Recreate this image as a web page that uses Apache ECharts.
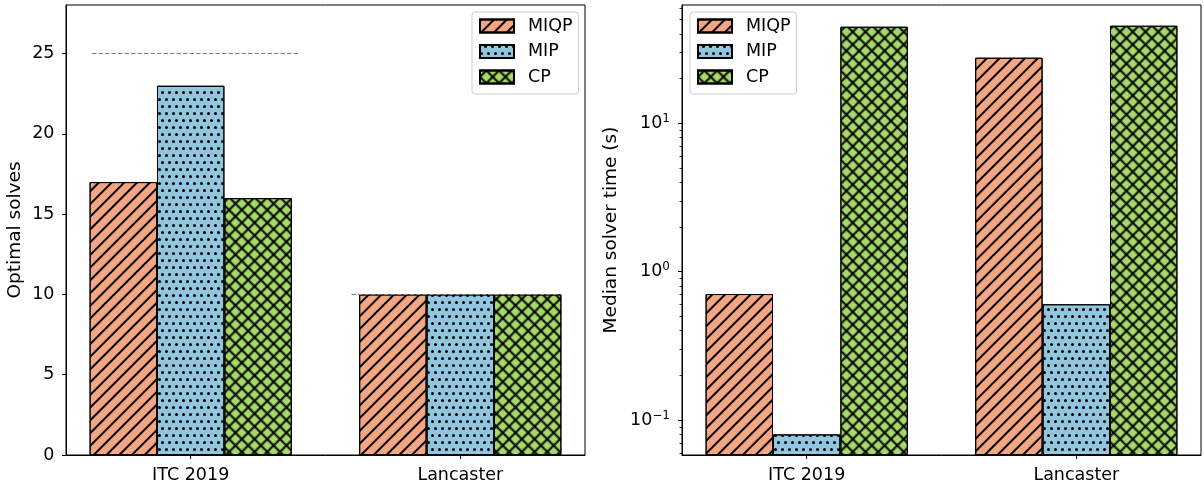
<!DOCTYPE html>
<html>
<head>
<meta charset="utf-8">
<script src="https://cdn.jsdelivr.net/npm/echarts@6/dist/echarts.min.js"></script>
<style>
  html, body { margin: 0; padding: 0; background: #fff; }
  #chart { width: 1204px; height: 487px; }
</style>
</head>
<body>
<div id="chart"></div>
<script>
// data
const categories = ["ITC 2019", "Lancaster"];
const solvers = ["MIQP", "MIP", "CP"];
const solverColors = ["#f4a582", "#92c5de", "#a6d96a"];

const optimalMIQP = [17, 10];
const optimalMIP = [23, 10];
const optimalCP = [16, 10];
// instance counts drawn as dashed reference lines
const instanceCounts = [25, 10];
const refLineFrom = [-0.366, 0.596];
const refLineTo = [0.404, 1.366];

const timeMIQP = [0.707, 27.7];
const timeMIP = [0.08, 0.603];
const timeCP = [44.8, 45.5];

const solvesTicks = [0, 5, 10, 15, 20, 25];
const timeTicks = [0.1, 1, 10];
const timeMinorTicks = [0.06, 0.07, 0.08, 0.09, 0.2, 0.3, 0.4, 0.5, 0.6, 0.7, 0.8, 0.9,
  2, 3, 4, 5, 6, 7, 8, 9, 20, 30, 40, 50, 60];

const FONT = "DejaVu Sans";
const FS = 17.5;
const X_MIN = -0.4625;
const X_MAX = 1.4625;
const BAR_W = 67.4;

// hatch patterns ("/", "..", "x")
const hatchSlash = {
  symbol: "rect", symbolSize: 1, color: "#000",
  dashArrayX: [1, 0], dashArrayY: [2, 7], rotation: -Math.PI / 4,
};
const hatchDots = {
  symbol: "circle", symbolSize: 1, color: "#000",
  dashArrayX: [[3, 4], [0, 4, 3, 0]], dashArrayY: [3, 4], rotation: 0,
};
const hatchCross = {
  symbol: "path://M0,3.5 L9,3.5 L9,5.5 L0,5.5 Z M3.5,0 L5.5,0 L5.5,9 L3.5,9 Z",
  symbolSize: 1, color: "#000",
  dashArrayX: [9, 0], dashArrayY: [9, 0], rotation: Math.PI / 4,
};
const hatches = [hatchSlash, hatchDots, hatchCross];

function barSeries(idx, values, axisIdx, yIdx) {
  return {
    name: solvers[idx],
    type: "bar",
    xAxisIndex: axisIdx,
    yAxisIndex: yIdx,
    barWidth: BAR_W,
    barGap: "-100%",
    data: values.map((v, i) => [i + (idx - 1) * 0.25, v]),
    itemStyle: {
      color: solverColors[idx],
      borderColor: "#000",
      borderWidth: 1,
      decal: hatches[idx],
    },
  };
}

function xAxisFor(gridIndex) {
  return {
    type: "value",
    gridIndex,
    min: X_MIN,
    max: X_MAX,
    axisLine: { show: true, onZero: false, lineStyle: { color: "#000", width: 1 } },
    axisTick: { show: true, length: 4, customValues: [0, 1], lineStyle: { color: "#000" } },
    axisLabel: {
      customValues: [0, 1],
      formatter: (v) => categories[Math.round(v)],
      color: "#000", fontFamily: FONT, fontSize: FS, margin: 11,
    },
    splitLine: { show: false },
  };
}

function logLabel(value) {
  const e = Math.round(Math.log10(value));
  return "{b|10}{s|" + (e < 0 ? "\u2212" + -e : e) + "}";
}

const chart = echarts.init(document.getElementById("chart"));

const leftSeries = [
  barSeries(0, optimalMIQP, 0, 0),
  barSeries(1, optimalMIP, 0, 0),
  barSeries(2, optimalCP, 0, 0),
];
leftSeries[2].markLine = {
  silent: true,
  symbol: "none",
  label: { show: false },
  lineStyle: { color: "#808080", type: [4.5, 2], width: 1 },
  data: instanceCounts.map((c, i) => [{ coord: [refLineFrom[i], c] }, { coord: [refLineTo[i], c] }]),
};

const rightSeries = [
  barSeries(0, timeMIQP, 1, 1),
  barSeries(1, timeMIP, 1, 1),
  barSeries(2, timeCP, 1, 1),
];

const legendBase = {
  top: 12,
  orient: "vertical",
  icon: "rect",
  itemWidth: 34,
  itemHeight: 13,
  itemGap: 7.5,
  padding: [5, 6, 8, 7],
  borderColor: "#cccccc",
  borderWidth: 1,
  borderRadius: 3,
  backgroundColor: "#fff",
  textStyle: { fontFamily: FONT, fontSize: FS, color: "#000", padding: [0, 0, 0, 9] },
  data: solvers,
  selectedMode: false,
};

const nameStyle = { fontFamily: FONT, fontSize: 18.5, color: "#000" };

chart.setOption({
  animation: false,
  textStyle: { fontFamily: FONT },
  grid: [
    { left: 66, top: 5, width: 519, height: 450, show: true, borderColor: "#000", borderWidth: 1 },
    { left: 682, top: 5, width: 519, height: 450, show: true, borderColor: "#000", borderWidth: 1 },
  ],
  legend: [
    Object.assign({}, legendBase, { left: 472 }),
    Object.assign({}, legendBase, { left: 690 }),
  ],
  xAxis: [xAxisFor(0), xAxisFor(1)],
  yAxis: [
    {
      type: "value",
      gridIndex: 0,
      position: "left",
      min: 0,
      max: 28.03,
      name: "Optimal solves",
      nameLocation: "middle",
      nameGap: 41,
      nameTextStyle: nameStyle,
      axisLine: { show: true, onZero: false, lineStyle: { color: "#000", width: 1 } },
      axisTick: { show: true, length: 4, customValues: solvesTicks, lineStyle: { color: "#000" } },
      axisLabel: { customValues: solvesTicks, color: "#000", fontFamily: FONT, fontSize: FS, margin: 11.5 },
      splitLine: { show: false },
    },
    {
      type: "log",
      logBase: 10,
      gridIndex: 1,
      position: "left",
      min: 0.0581,
      max: 62.8,
      startValue: 0.0581,
      name: "Median solver time (s)",
      nameLocation: "middle",
      nameGap: 61,
      nameTextStyle: nameStyle,
      axisLine: { show: true, onZero: false, lineStyle: { color: "#000", width: 1 } },
      axisTick: { show: true, length: 4, customValues: timeTicks, lineStyle: { color: "#000" } },
      axisLabel: {
        customValues: timeTicks,
        formatter: logLabel,
        margin: 12,
        rich: {
          b: { fontFamily: FONT, fontSize: FS, color: "#000" },
          s: { fontFamily: FONT, fontSize: 12, color: "#000", padding: [0, 0, 9, 0] },
        },
      },
      splitLine: { show: false },
    },
    {
      type: "log",
      logBase: 10,
      gridIndex: 1,
      position: "left",
      offset: 0,
      min: 0.0581,
      max: 62.8,
      axisLine: { show: false, onZero: false },
      axisTick: { show: true, length: 2.5, customValues: timeMinorTicks, lineStyle: { color: "#000", width: 0.8 } },
      axisLabel: { show: false },
      splitLine: { show: false },
    },
  ],
  series: leftSeries.concat(rightSeries),
});
</script>
</body>
</html>
